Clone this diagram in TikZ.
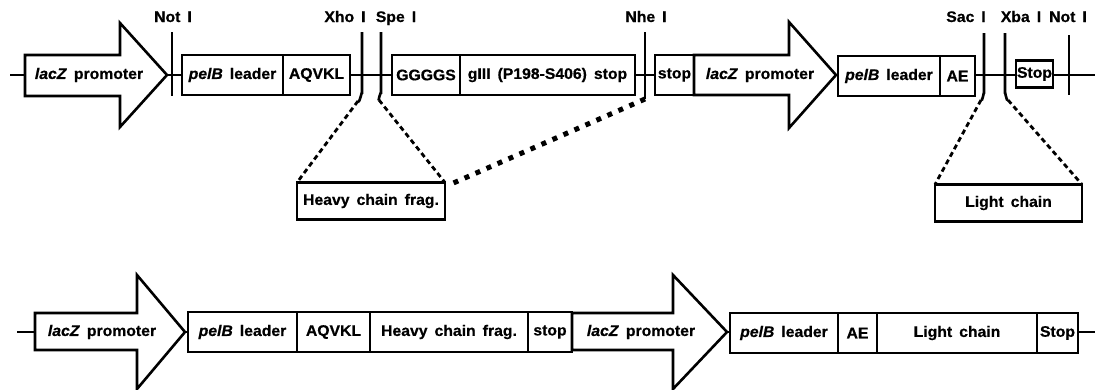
\documentclass[tikz,border=0pt]{standalone}
\usepackage{fontspec}
\setmainfont{Liberation Sans}[FakeStretch=1.03, WordSpace=1.6, FakeBold=0.6]
\begin{document}
\begin{tikzpicture}[x=1pt,y=-1pt,
  font=\fontsize{15.3}{17}\selectfont\bfseries,
  box/.style={draw, line width=2.6pt, fill=white, inner sep=0pt, outer sep=0pt, minimum height=40pt, anchor=west},
  site/.style={line width=2.6pt},
  lbl/.style={anchor=base, inner sep=0pt},
  dsh/.style={line width=2.8pt, dash pattern=on 5pt off 3.5pt},
  dots/.style={line width=5pt, dash pattern=on 5pt off 7pt},
  prom/.style={draw, line width=2.6pt, fill=white, line join=miter},
  txt/.style={inner sep=0pt}]
\useasboundingbox (0,0) rectangle (1095,389);

% ---------- top row ----------
\coordinate (t0) at (10,75);
\coordinate (t1) at (1095,75);
\draw[site] (t0) -- (t1);

\draw[prom] (25,55) -- (120,55) -- (120,23) -- (167,75) -- (120,127) -- (120,96) -- (25,96) -- cycle;
\node[txt] (p1) at (89,75) {\textit{lacZ} promoter};

\node[box, minimum width=101pt] (pel1) at (182,75) {\textit{pelB} leader};
\node[box, minimum width=67pt] (aq1) at (pel1.east) {AQVKL};
\node[box, minimum width=68pt] (gg) at (392,75) {GGGGS};
\node[box, minimum width=175pt] (g3) at (gg.east) {gIII (P198-S406) stop};
\node[box, minimum width=39pt] (stop1) at (655,75) {stop};

\draw[prom] (694,55) -- (789,55) -- (789,22) -- (836,75) -- (789,128) -- (789,95) -- (694,95) -- cycle;
\node[txt] (p2) at (760,75) {\textit{lacZ} promoter};

\node[box, minimum width=102pt] (pel2) at (838,76) {\textit{pelB} leader};
\node[box, minimum width=35pt] (ae2) at (pel2.east) {AE};
\node[box, minimum width=37pt, minimum height=27pt] (stop2) at (1016,74) {Stop};

% restriction sites
\coordinate (not1t) at (172,32);  \coordinate (not1b) at (172,96);
\coordinate (xhot) at (362,32);   \coordinate (xhob) at (358,101);
\coordinate (spet) at (381,32);   \coordinate (speb) at (379,100);
\coordinate (nhet) at (645,32);   \coordinate (nheb) at (645,99);
\coordinate (sact) at (984,33);   \coordinate (sacb) at (981,100);
\coordinate (xbat) at (1005,33);  \coordinate (xbab) at (1008,100);
\coordinate (not2t) at (1069,35); \coordinate (not2b) at (1069,95);

\draw[site] (not1t) -- (not1b);
\draw[site] (xhot) -- (362,93) to[out=90,in=-60] (xhob);
\draw[site] (spet) -- (381,93) to[out=90,in=-120] (speb);
\draw[site] (nhet) -- (nheb);
\draw[site] (sact) -- (984,93) to[out=90,in=-60] (sacb);
\draw[site] (xbat) -- (1005,93) to[out=90,in=-120] (xbab);
\draw[site] (not2t) -- (not2b);

\node[lbl] (lnot1) at (173,22) {Not I};
\node[lbl] (lxho) at (345,22) {Xho I};
\node[lbl] (lspe) at (396,22) {Spe I};
\node[lbl] (lnhe) at (646,22) {Nhe I};
\node[lbl] (lsac) at (966,22) {Sac I};
\node[lbl] (lxba) at (1021,22) {Xba I};
\node[lbl] (lnot2) at (1068,22) {Not I};

% inserts
\node[box, minimum width=148pt, minimum height=37pt] (heavy) at (297,201) {Heavy chain frag.};
\node[box, minimum width=147pt, minimum height=37pt] (light) at (935,203) {Light chain};

\draw[dsh] (xhob) -- (heavy.north west);
\draw[dsh] (speb) -- (heavy.north east);
\draw[dots] (nheb) -- ([xshift=5pt,yshift=-2pt]heavy.north east);
\draw[dsh] (sacb) -- (light.north west);
\draw[dsh] (xbab) -- (light.north east);

% ---------- bottom row ----------
\coordinate (b0) at (17,332);
\coordinate (b1) at (1095,332);
\draw[site] (b0) -- (b1);

\draw[prom] (35,313) -- (137,313) -- (137,275) -- (185,332) -- (137,389) -- (137,350) -- (35,350) -- cycle;
\node[txt] (p3) at (102,332) {\textit{lacZ} promoter};

\node[box, minimum width=109pt] (pel3) at (188,332) {\textit{pelB} leader};
\node[box, minimum width=73pt] (aq3) at (pel3.east) {AQVKL};
\node[box, minimum width=158pt] (heavy3) at (aq3.east) {Heavy chain frag.};
\node[box, minimum width=44pt] (stop3) at (heavy3.east) {stop};

\draw[prom] (572,313) -- (673,313) -- (673,275) -- (727,332) -- (673,389) -- (673,350) -- (572,350) -- cycle;
\node[txt] (p4) at (641,332) {\textit{lacZ} promoter};

\node[box, minimum width=108pt] (pel4) at (730,333) {\textit{pelB} leader};
\node[box, minimum width=39pt] (ae4) at (pel4.east) {AE};
\node[box, minimum width=160pt] (light4) at (ae4.east) {Light chain};
\node[box, minimum width=41pt] (stop4) at (light4.east) {Stop};
\end{tikzpicture}
\end{document}
